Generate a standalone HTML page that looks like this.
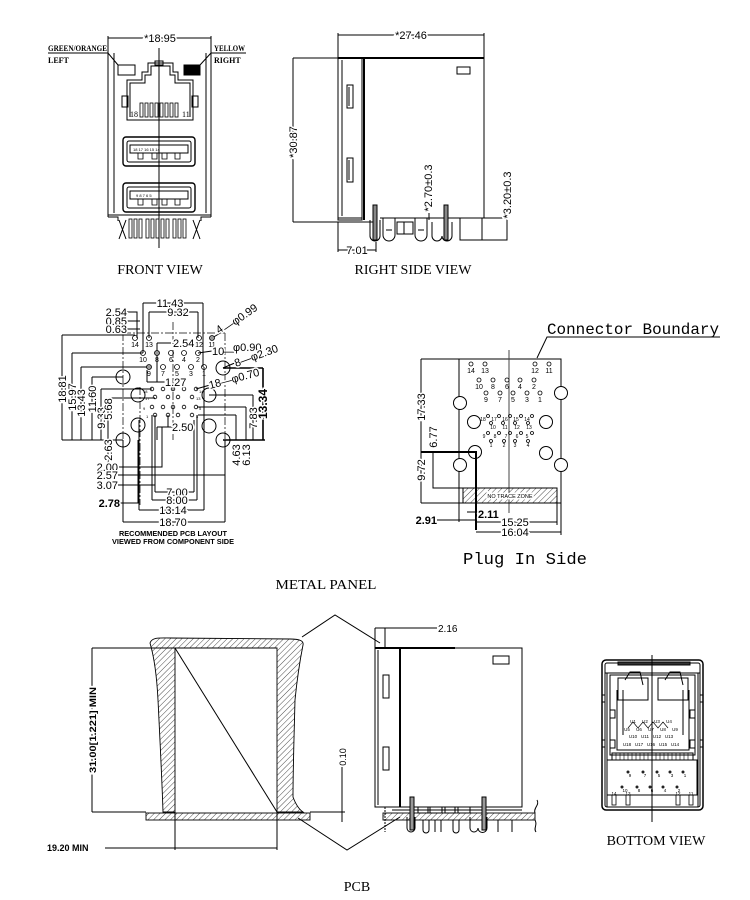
<!DOCTYPE html>
<html><head><meta charset="utf-8"><style>
html,body{margin:0;padding:0;background:#fff;}
svg{display:block;}
text{font-family:"Liberation Sans",Arial,sans-serif;fill:#000;}
.s{font-family:"Liberation Serif",serif;}
.m{font-family:"Liberation Mono",monospace;}
.w{stroke:#fff;stroke-width:3;paint-order:stroke;}
</style></head><body>
<svg width="750" height="900" viewBox="0 0 750 900" xmlns="http://www.w3.org/2000/svg">
<defs>
<pattern id="h" patternUnits="userSpaceOnUse" width="4" height="4" patternTransform="rotate(45)"><line x1="0" y1="0" x2="0" y2="4" stroke="#000" stroke-width="0.7"/></pattern>
</defs>
<rect width="750" height="900" fill="#fff"/>

<!-- ================= FRONT VIEW ================= -->
<g fill="none" stroke="#000" stroke-width="1">
<line x1="108" y1="38" x2="211" y2="38"/>
<path d="M108,36V217 M211,36V217 M114,53V213 M206,53V213"/>
<path d="M48,53H108L118,65 M211,53H246 M211,53L200,65"/>
<rect x="118" y="65" width="17" height="10"/>
<rect x="184" y="65" width="16" height="10" fill="#000"/>
<path d="M127,120V80H142V72H148V63H173V72H178V80H193V120Z"/>
<path d="M130,117V83H145V75H151V66H170V75H175V83H190V117"/>
<rect x="122" y="96" width="6" height="11"/>
<rect x="192" y="96" width="6" height="11"/>
<rect x="155" y="61" width="8" height="4"/>
<g stroke-width="0.8">
<rect x="140" y="103" width="3" height="14"/><rect x="145" y="103" width="3" height="14"/>
<rect x="150" y="103" width="3" height="14"/><rect x="155" y="103" width="3" height="14"/>
<rect x="160" y="103" width="3" height="14"/><rect x="165" y="103" width="3" height="14"/>
<rect x="170" y="103" width="3" height="14"/><rect x="175" y="103" width="3" height="14"/>
</g>
<!-- USB 1 -->
<rect x="123" y="137" width="72" height="29" rx="3" stroke-width="1.4"/>
<rect x="127" y="141" width="64" height="21" rx="2"/>
<rect x="130" y="145" width="58" height="8"/>
<path d="M138,153v6h5v-6 M152,153v6h5v-6 M162,153v6h5v-6 M175,153v6h5v-6" stroke-width="0.8"/>
<!-- USB 2 -->
<rect x="123" y="183" width="72" height="29" rx="3" stroke-width="1.4"/>
<rect x="127" y="187" width="64" height="21" rx="2"/>
<rect x="130" y="191" width="58" height="8"/>
<path d="M138,199v6h5v-6 M152,199v6h5v-6 M162,199v6h5v-6 M175,199v6h5v-6" stroke-width="0.8"/>
<!-- bottom -->
<line x1="108" y1="215" x2="211" y2="215"/>
<path d="M108,217H118V221 M211,217H201V221"/>
<path d="M119,220L126,239 M126,220L119,239 M193,220L200,239 M200,220L193,239"/>
<g stroke-width="0.8">
<rect x="129" y="219" width="3" height="19"/><rect x="134" y="219" width="3" height="19"/>
<rect x="139" y="219" width="3" height="19"/><rect x="146" y="219" width="3" height="19"/>
<rect x="151" y="219" width="3" height="19"/><rect x="156" y="219" width="3" height="19"/>
<rect x="161" y="219" width="3" height="19"/><rect x="166" y="219" width="3" height="19"/>
<rect x="173" y="219" width="3" height="19"/><rect x="178" y="219" width="3" height="19"/>
<rect x="183" y="219" width="3" height="19"/>
</g>
<line x1="159" y1="48" x2="159" y2="248"/>
</g>
<text x="160" y="42" font-size="11" text-anchor="middle" class="w">*18.95</text>
<text x="48" y="51" font-size="8" class="s" font-weight="bold" textLength="59" lengthAdjust="spacingAndGlyphs">GREEN/ORANGE</text>
<text x="48" y="63" font-size="8" class="s" font-weight="bold">LEFT</text>
<text x="214" y="51" font-size="8" class="s" font-weight="bold" textLength="31" lengthAdjust="spacingAndGlyphs">YELLOW</text>
<text x="214" y="63" font-size="8" class="s" font-weight="bold">RIGHT</text>
<text x="130" y="117" font-size="8" class="s" fill="#224">18</text>
<text x="182" y="117" font-size="8" class="s" fill="#224">11</text>
<g font-size="4" fill="#2060a0">
<text x="133" y="151">18 17 16 15 14</text>
<text x="136" y="197">9  8  7  6  5</text>
</g>
<text x="160" y="274" font-size="14" class="s" text-anchor="middle">FRONT VIEW</text>

<!-- ================= RIGHT SIDE VIEW ================= -->
<g fill="none" stroke="#000" stroke-width="1">
<path d="M338,33V58 M484,33V58"/>
<line x1="338" y1="35" x2="484" y2="35"/>
<line x1="338" y1="58" x2="484" y2="58" stroke-width="2"/>
<rect x="338" y="58" width="24" height="162"/>
<line x1="342" y1="60" x2="342" y2="216"/>
<line x1="364" y1="58" x2="364" y2="220" stroke-width="2"/>
<line x1="484" y1="58" x2="484" y2="218"/>
<rect x="457" y="67" width="13" height="7"/>
<rect x="347" y="85" width="6" height="23"/><line x1="349" y1="87" x2="349" y2="106"/>
<rect x="347" y="158" width="6" height="24"/><line x1="349" y1="160" x2="349" y2="180"/>
<path d="M338,218H362 M338,222H373 M380,218H460"/>
<path d="M370,220V236A5,5 0 0 0 380,236V220"/>
<rect x="373" y="205" width="4" height="35" fill="#888"/>
<path d="M383,218V235A6,6 0 0 0 395,235V218 M386,230H392"/>
<rect x="397" y="222" width="7" height="12"/><rect x="404" y="222" width="9" height="12"/>
<path d="M415,218V235A6,6 0 0 0 427,235V218 M418,230H424"/>
<path d="M432,222V236A5,5 0 0 0 442,236A5,5 0 0 0 452,236V222"/>
<rect x="444" y="205" width="4" height="35" fill="#888"/>
<rect x="460" y="218" width="47" height="22"/>
<line x1="482" y1="218" x2="482" y2="240"/>
<path d="M293,58H338 M293,222H338 M293,58V222"/>
<line x1="429" y1="213" x2="429" y2="220"/>
<line x1="507" y1="210" x2="507" y2="240"/>
<path d="M338,222V252 M376,242V252 M338,250H376"/>
</g>
<text x="411" y="39" font-size="11" text-anchor="middle" class="w">*27.46</text>
<text transform="translate(297,142) rotate(-90)" font-size="11" text-anchor="middle" class="w">*30.87</text>
<text transform="translate(432,188) rotate(-90)" font-size="11" text-anchor="middle" class="w">*2.70±0.3</text>
<text transform="translate(511,195) rotate(-90)" font-size="11" text-anchor="middle" class="w">*3.20±0.3</text>
<text x="357" y="254" font-size="11" text-anchor="middle" class="w">7.01</text>
<text x="413" y="274" font-size="14" class="s" text-anchor="middle">RIGHT SIDE VIEW</text>

<!-- ================= PCB LAYOUT ================= -->
<g fill="none" stroke="#000" stroke-width="1">
<path d="M123,333H225 M123,333V440 M225,333V440" stroke-dasharray="8,2,2,2" stroke="#444"/>
<path d="M173,322V440" stroke-dasharray="8,2,2,2" stroke="#444"/>
<path d="M140,387V505" stroke-dasharray="8,2,2,2" stroke="#444"/>
<path d="M123,440V522 M225,440V522"/>
<!-- left dims -->
<path d="M62,335H135 M62,335V440 M72,353H143 M72,353V440 M81,367H149 M81,367V440 M92,377H123 M92,377V440 M101,389H152 M101,389V440 M108,398H155 M108,398V475 M62,440H123"/>
<!-- top dims -->
<path d="M143,303H203 M143,303V353 M203,303V367 M149,312H198 M149,312V338 M198,312V338"/>
<path d="M127,312H137V338 M127,321H140 M127,329H140"/>
<path d="M157,343H171 M157,343V382 M147,382H165 M147,370V382"/>
<path d="M212,338L222,332 M198,353L212,351 M223,368L237,362 M196,389L210,385"/>
<!-- right dims -->
<path d="M223,368H263 M223,440H265 M263,368V440" stroke-width="1.6"/>
<path d="M209,395H253 M253,395V440"/>
<path d="M197,407H246 M246,407V440 M198,415H236 M236,415V440"/>
<path d="M157,427H172 M157,427V440 M168,415V427"/>
<!-- bottom dims -->
<path d="M118,467H162V427 M118,475H225 M118,485H155V415 M120,503H138V440 M155,492H194 M155,485V492 M194,420V492 M152,500H197 M152,415V500 M197,415V500 M139,510H204 M139,420V510 M204,367V510 M123,522H225"/>
<!-- big holes -->
<circle cx="123" cy="377" r="7"/><circle cx="138" cy="395" r="7"/>
<circle cx="138" cy="425" r="7"/><circle cx="123" cy="440" r="7"/>
<circle cx="223" cy="368" r="7"/><circle cx="209" cy="395" r="7"/>
<circle cx="209" cy="426" r="7"/><circle cx="223" cy="440" r="7"/>
<!-- pins -->
<g stroke-width="0.8">
<circle cx="135" cy="338" r="2.5"/><circle cx="149" cy="338" r="2.5"/><circle cx="199" cy="338" r="2.5"/><circle cx="212" cy="338" r="2.5" fill="#999"/>
<circle cx="143" cy="353" r="2.5"/><circle cx="157" cy="353" r="2.5" fill="#999"/><circle cx="171" cy="353" r="2.5"/><circle cx="184" cy="353" r="2.5"/><circle cx="198" cy="353" r="2.5"/>
<circle cx="149" cy="367" r="2.5" fill="#999"/><circle cx="163" cy="367" r="2.5"/><circle cx="177" cy="367" r="2.5"/><circle cx="191" cy="367" r="2.5"/><circle cx="204" cy="367" r="2.5"/>
<circle cx="152" cy="389" r="1.8"/><circle cx="163" cy="389" r="1.8"/><circle cx="173" cy="389" r="1.8"/><circle cx="184" cy="389" r="1.8"/><circle cx="196" cy="389" r="1.8"/>
<circle cx="155" cy="397" r="1.8"/><circle cx="168" cy="397" r="1.8"/><circle cx="178" cy="397" r="1.8"/><circle cx="192" cy="397" r="1.8"/>
<circle cx="152" cy="407" r="1.8"/><circle cx="163" cy="407" r="1.8"/><circle cx="173" cy="407" r="1.8"/><circle cx="184" cy="407" r="1.8"/><circle cx="196" cy="407" r="1.8"/>
<circle cx="155" cy="415" r="1.8"/><circle cx="168" cy="415" r="1.8"/><circle cx="178" cy="415" r="1.8"/><circle cx="192" cy="415" r="1.8"/>
</g>
</g>
<g font-size="7" text-anchor="middle">
<text x="135" y="347" fill="#e07020">14</text><text x="149" y="347" fill="#c06000">13</text><text x="199" y="347" fill="#e07020">12</text><text x="212" y="347" fill="#e07020">11</text>
<text x="143" y="362" fill="#e07020">10</text><text x="157" y="362" fill="#a05010">8</text><text x="171" y="362" fill="#2080c0">6</text><text x="184" y="362" fill="#555">4</text><text x="198" y="362" fill="#e07020">2</text>
<text x="149" y="376" fill="#a05010">9</text><text x="163" y="376" fill="#555">7</text><text x="177" y="376" fill="#2080c0">5</text><text x="191" y="376" fill="#555">3</text><text x="204" y="376" fill="#2080c0">1</text>
</g>
<g font-size="4" fill="#2070b0">
<text x="143" y="393">18</text><text x="145" y="400">17</text><text x="143" y="410">9</text><text x="146" y="418">1</text>
<text x="199" y="393">14</text><text x="196" y="400">13</text><text x="199" y="410">5</text><text x="196" y="418">4</text>
</g>
<g font-size="11">
<text x="170" y="307" text-anchor="middle" class="w">11.43</text>
<text x="178" y="316" text-anchor="middle" class="w">9.32</text>
<text x="127" y="316" text-anchor="end" class="w">2.54</text>
<text x="127" y="325" text-anchor="end" class="w">0.85</text>
<text x="127" y="333" text-anchor="end" class="w">0.63</text>
<text x="173" y="347" class="w">2.54</text>
<text x="165" y="386" class="w">1.27</text>
<text x="172" y="431" class="w">2.50</text>
<text x="212" y="355" class="w">10</text>
<text x="223" y="355">—</text>
<text x="233" y="351" class="w">φ0.90</text>
<text transform="translate(219,334) rotate(-35)" class="w">4</text>
<text transform="translate(226,332) rotate(-35)" class="w">—φ0.99</text>
<text transform="translate(236,367) rotate(-20)" class="w">8—φ2.30</text>
<text transform="translate(210,389) rotate(-15)" class="w">18—φ0.70</text>
<text transform="translate(66,389) rotate(-90)" text-anchor="middle" class="w">18.81</text>
<text transform="translate(76,397) rotate(-90)" text-anchor="middle" class="w">15.97</text>
<text transform="translate(85,403) rotate(-90)" text-anchor="middle" class="w">13.43</text>
<text transform="translate(96,399) rotate(-90)" text-anchor="middle" class="w">11.60</text>
<text transform="translate(105,418) rotate(-90)" text-anchor="middle" class="w">9.33</text>
<text transform="translate(112,409) rotate(-90)" text-anchor="middle" class="w">5.68</text>
<text transform="translate(112,450) rotate(-90)" text-anchor="middle" class="w">2.63</text>
<text transform="translate(257,418) rotate(-90)" text-anchor="middle" class="w">7.83</text>
<text transform="translate(267,404) rotate(-90)" text-anchor="middle" class="w" font-weight="bold" font-size="12">13.34</text>
<text transform="translate(240,455) rotate(-90)" text-anchor="middle" class="w">4.63</text>
<text transform="translate(250,455) rotate(-90)" text-anchor="middle" class="w">6.13</text>
<text x="118" y="471" text-anchor="end" class="w">2.00</text>
<text x="118" y="479" text-anchor="end" class="w">2.57</text>
<text x="118" y="489" text-anchor="end" class="w">3.07</text>
<text x="120" y="507" text-anchor="end" font-weight="bold" class="w">2.78</text>
<text x="177" y="496" text-anchor="middle" class="w">7.00</text>
<text x="177" y="504" text-anchor="middle" class="w">8.00</text>
<text x="173" y="514" text-anchor="middle" class="w">13.14</text>
<text x="173" y="526" text-anchor="middle" class="w">18.70</text>
</g>
<text x="173" y="536" font-size="7.5" text-anchor="middle" fill="#c0602a" font-weight="bold" textLength="108" lengthAdjust="spacingAndGlyphs">RECOMMENDED PCB LAYOUT</text>
<text x="173" y="544" font-size="7.5" text-anchor="middle" fill="#c0602a" font-weight="bold" textLength="122" lengthAdjust="spacingAndGlyphs">VIEWED FROM COMPONENT SIDE</text>

<!-- ================= PLUG IN SIDE ================= -->
<text x="547" y="334" font-size="16" class="m" textLength="172" lengthAdjust="spacingAndGlyphs">Connector Boundary</text>
<g fill="none" stroke="#000" stroke-width="1">
<path d="M720,337H547L537,358"/>
<rect x="459" y="359" width="102" height="144"/>
<line x1="509" y1="350" x2="509" y2="513" stroke="#444"/>
<rect x="463" y="488" width="94" height="15" fill="url(#h)"/>
<circle cx="460" cy="403" r="6.5" fill="#fff"/><circle cx="561" cy="393" r="6.5" fill="#fff"/>
<circle cx="474" cy="422" r="6.5"/><circle cx="546" cy="422" r="6.5"/>
<circle cx="475" cy="452" r="6.5"/><circle cx="546" cy="453" r="6.5"/>
<circle cx="460" cy="465" r="6.5" fill="#fff"/><circle cx="561" cy="465" r="6.5" fill="#fff"/>
<g stroke-width="0.8">
<circle cx="471" cy="364" r="2"/><circle cx="485" cy="364" r="2"/><circle cx="535" cy="364" r="2"/><circle cx="549" cy="364" r="2"/>
<circle cx="479" cy="380" r="2"/><circle cx="493" cy="380" r="2"/><circle cx="507" cy="380" r="2"/><circle cx="520" cy="380" r="2"/><circle cx="534" cy="380" r="2"/>
<circle cx="486" cy="393" r="2"/><circle cx="500" cy="393" r="2"/><circle cx="513" cy="393" r="2"/><circle cx="527" cy="393" r="2"/><circle cx="540" cy="393" r="2"/>
<circle cx="488" cy="416" r="1.5"/><circle cx="499" cy="416" r="1.5"/><circle cx="510" cy="416" r="1.5"/><circle cx="521" cy="416" r="1.5"/><circle cx="532" cy="416" r="1.5"/>
<circle cx="491" cy="423" r="1.5"/><circle cx="503" cy="423" r="1.5"/><circle cx="515" cy="423" r="1.5"/><circle cx="528" cy="423" r="1.5"/>
<circle cx="488" cy="433" r="1.5"/><circle cx="499" cy="433" r="1.5"/><circle cx="510" cy="433" r="1.5"/><circle cx="521" cy="433" r="1.5"/><circle cx="532" cy="433" r="1.5"/>
<circle cx="491" cy="441" r="1.5"/><circle cx="504" cy="441" r="1.5"/><circle cx="515" cy="441" r="1.5"/><circle cx="528" cy="441" r="1.5"/>
</g>
<path d="M421,359H459 M421,503H463 M421,359V503"/>
<path d="M421,452H476V530" stroke-width="2"/>
<path d="M433,452V488H463"/>
<path d="M459,503V522 M557,503V525 M561,503V535 M437,520H476 M467,512H478 M476,522H557 M476,532H561"/>
</g>
<g font-size="7" text-anchor="middle">
<text x="471" y="373" fill="#2080c0">14</text><text x="485" y="373" fill="#c06000">13</text><text x="535" y="373" fill="#e07020">12</text><text x="549" y="373" fill="#2080c0">11</text>
<text x="479" y="389" fill="#2080c0">10</text><text x="493" y="389" fill="#444">8</text><text x="507" y="389" fill="#a05010">6</text><text x="520" y="389" fill="#e07020">4</text><text x="534" y="389" fill="#e07020">2</text>
<text x="486" y="402" fill="#e07020">9</text><text x="500" y="402" fill="#e07020">7</text><text x="513" y="402" fill="#2080c0">5</text><text x="527" y="402" fill="#e07020">3</text><text x="540" y="402" fill="#e07020">1</text>
</g>
<g font-size="5" text-anchor="middle">
<text x="483" y="421" fill="#a05010">18</text><text x="494" y="421" fill="#2080c0">17</text><text x="505" y="421" fill="#2080c0">16</text><text x="516" y="421" fill="#2080c0">15</text><text x="527" y="421" fill="#e07020">14</text>
<text x="493" y="429" fill="#a05010">10</text><text x="505" y="429" fill="#2080c0">11</text><text x="517" y="429" fill="#2080c0">12</text><text x="529" y="429" fill="#a05010">13</text>
<text x="484" y="438" fill="#a05010">9</text><text x="495" y="438" fill="#e07020">8</text><text x="506" y="438" fill="#2080c0">7</text><text x="517" y="438" fill="#e07020">6</text><text x="527" y="438" fill="#e07020">5</text>
<text x="491" y="447" fill="#a05010">1</text><text x="504" y="447" fill="#2080c0">2</text><text x="515" y="447" fill="#a05010">3</text><text x="528" y="447" fill="#444">4</text>
</g>
<text x="510" y="498" font-size="5.5" text-anchor="middle" class="w" stroke-width="1.5">NO TRACE ZONE</text>
<g font-size="11">
<text transform="translate(425,407) rotate(-90)" text-anchor="middle" class="w">17.33</text>
<text transform="translate(437,437) rotate(-90)" text-anchor="middle" class="w">6.77</text>
<text transform="translate(425,470) rotate(-90)" text-anchor="middle" class="w">9.72</text>
<text x="437" y="524" text-anchor="end" font-weight="bold" class="w">2.91</text>
<text x="478" y="518" font-weight="bold" class="w">2.11</text>
<text x="515" y="526" text-anchor="middle" class="w">15.25</text>
<text x="515" y="536" text-anchor="middle" class="w">16.04</text>
</g>
<text x="525" y="564" font-size="17" class="m" text-anchor="middle" textLength="124" lengthAdjust="spacingAndGlyphs">Plug In Side</text>

<text x="326" y="589" font-size="14" class="s" text-anchor="middle" textLength="101" lengthAdjust="spacingAndGlyphs">METAL PANEL</text>

<!-- ================= METAL PANEL SECTION ================= -->
<g fill="none" stroke="#000" stroke-width="1">
<path d="M163,812C162,780 160,740 158,700C157,680 155,660 150,643C152,637 160,638 170,638L290,639C300,639 304,641 303,645C300,660 297,680 295,700C294,740 293,770 293,797C296,805 300,810 303,812L277,812L277,648L175,648L175,812Z" fill="url(#h)" stroke-width="0.9"/>
<rect x="146" y="813" width="164" height="7" fill="url(#h)" stroke-width="0.9"/>
<line x1="175" y1="648" x2="277" y2="812"/>
<path d="M92,648H175 M92,812H146 M92,648V812"/>
<path d="M175,812V850 M277,812V850 M105,848H277"/>
<path d="M310,812H345 M342,767V822"/>
<path d="M302,637L335,615L380,643"/>
<path d="M298,818L347,850L400,817"/>
<!-- side view in panel -->
<path d="M375,628V648 M375,628H437 M385,628V648" />
<line x1="385" y1="807" x2="385" y2="832" stroke-dasharray="2,1"/>
<rect x="375" y="648" width="25" height="159"/>
<line x1="378" y1="650" x2="378" y2="805"/>
<line x1="375" y1="648" x2="455" y2="648" stroke-width="2"/>
<rect x="400" y="648" width="122" height="159"/>
<line x1="400" y1="648" x2="400" y2="807" stroke-width="2"/>
<rect x="493" y="656" width="16" height="8"/>
<rect x="383" y="675" width="6" height="23"/>
<rect x="383" y="747" width="6" height="23"/>
<path d="M375,807H522 M392,810H522"/>
<rect x="383" y="813" width="152" height="7" fill="url(#h)" stroke-width="0.9"/>
<path d="M535,813C533,808 540,805 537,800 M535,820C538,825 533,828 536,832"/>
<rect x="410" y="797" width="4" height="33" fill="#999"/>
<path d="M407,817V828A4,4 0 0 0 415,828V817"/>
<rect x="482" y="797" width="4" height="33" fill="#999"/>
<path d="M470,817V828A4,4 0 0 0 478,828A4,4 0 0 0 487,828V817"/>
<path d="M423,820V830A3,3 0 0 0 429,830V820 M435,820V832 M441,820V832 M453,820V830A3,3 0 0 0 459,830V820 M498,820V832 M512,820V832"/>
<rect x="418" y="807" width="10" height="6"/><rect x="430" y="807" width="12" height="6"/><rect x="445" y="807" width="10" height="6"/><rect x="458" y="807" width="12" height="6"/>
</g>
<text transform="translate(96,730) rotate(-90)" font-size="9" font-weight="bold" text-anchor="middle" class="w" textLength="86" lengthAdjust="spacingAndGlyphs">31.00[1.221]  MIN</text>
<text x="47" y="851" font-size="9" font-weight="bold">19.20  MIN</text>
<text transform="translate(346,757) rotate(-90)" font-size="9" text-anchor="middle" class="w">0.10</text>
<text x="438" y="632" font-size="10">2.16</text>
<text x="357" y="891" font-size="14" class="s" text-anchor="middle">PCB</text>

<!-- ================= BOTTOM VIEW ================= -->
<g fill="none" stroke="#000" stroke-width="1">
<rect x="602" y="660" width="101" height="150" rx="4" stroke-width="1.5"/>
<rect x="605" y="663" width="95" height="144" rx="2"/>
<rect x="618" y="662" width="72" height="3" fill="#333"/>
<line x1="605" y1="673" x2="700" y2="673"/>
<path d="M607,673V807 M698,673V807"/>
<rect x="610" y="675" width="85" height="80"/>
<path d="M618,678H648V700H618Z M658,678H688V700H658Z"/>
<path d="M625,680L630,672H640L643,685 M665,680L670,672H680L683,685"/>
<path d="M617,690V750H689V690 M623,690V735 M683,690V735"/>
<rect x="610" y="710" width="5" height="8"/><rect x="690" y="710" width="5" height="8"/>
<rect x="610" y="740" width="5" height="8"/><rect x="690" y="740" width="5" height="8"/>
<rect x="602" y="695" width="3" height="7"/><rect x="700" y="695" width="3" height="7"/>
<rect x="602" y="740" width="3" height="7"/><rect x="700" y="740" width="3" height="7"/>
<path d="M628,728L633,722L638,728L643,722L648,728L653,722L658,728L663,722L668,728" stroke-width="0.7"/>
<rect x="612" y="753" width="81" height="7"/>
<path d="M616,753v7M620,753v7M624,753v7M628,753v7M632,753v7M636,753v7M640,753v7M644,753v7M648,753v7M656,753v7M660,753v7M664,753v7M668,753v7M672,753v7M676,753v7M680,753v7M684,753v7M688,753v7" stroke-width="0.6"/>
<rect x="607" y="760" width="90" height="35"/>
<g stroke-width="0.8">
<rect x="612" y="795" width="4" height="10"/><rect x="626" y="795" width="4" height="10"/>
<rect x="676" y="795" width="4" height="10"/><rect x="689" y="795" width="4" height="10"/>
</g>
<line x1="652" y1="655" x2="652" y2="822"/>
</g>
<g fill="#222">
<circle cx="628" cy="772" r="1.5"/><circle cx="643" cy="772" r="1.5"/><circle cx="657" cy="772" r="1.5"/><circle cx="670" cy="772" r="1.5"/><circle cx="683" cy="772" r="1.5"/>
<circle cx="622" cy="787" r="1.5"/><circle cx="637" cy="787" r="1.5"/><circle cx="650" cy="787" r="1.5"/><circle cx="663" cy="787" r="1.5"/><circle cx="677" cy="787" r="1.5"/>
</g>
<g font-size="4.5" fill="#805020" text-anchor="middle">
<text x="633" y="723">U1</text><text x="645" y="723">U2</text><text x="657" y="723">U3</text><text x="669" y="723">U4</text>
<text x="627" y="731">U5</text><text x="639" y="731">U6</text><text x="651" y="731">U7</text><text x="663" y="731">U8</text><text x="675" y="731">U9</text>
<text x="633" y="738">U10</text><text x="645" y="738">U11</text><text x="657" y="738">U12</text><text x="669" y="738">U13</text>
<text x="627" y="746">U18</text><text x="639" y="746">U17</text><text x="651" y="746">U16</text><text x="663" y="746">U15</text><text x="675" y="746">U14</text>
<text x="630" y="777">9</text><text x="645" y="777">7</text><text x="659" y="777">5</text><text x="672" y="777">3</text><text x="685" y="777">1</text>
<text x="625" y="792">10</text><text x="639" y="792">8</text><text x="652" y="792">6</text><text x="665" y="792">4</text><text x="679" y="792">2</text>
<text x="614" y="795">14</text><text x="628" y="795">13</text><text x="678" y="795">12</text><text x="691" y="795">11</text>
</g>
<text x="656" y="845" font-size="14" class="s" text-anchor="middle">BOTTOM VIEW</text>
</svg>
</body></html>
